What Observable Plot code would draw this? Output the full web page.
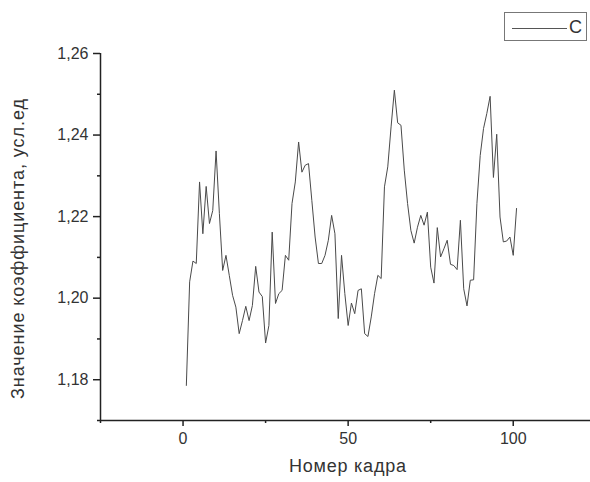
<!DOCTYPE html>
<html>
<head>
<meta charset="utf-8">
<script src="https://cdn.jsdelivr.net/npm/d3@7"></script>
<script src="https://cdn.jsdelivr.net/npm/@observablehq/plot@0.6"></script>
<style>
  html, body { margin: 0; padding: 0; background: #fff; }
  #wrap { position: relative; width: 590px; height: 482px; font-family: "Liberation Sans", Arial, sans-serif; }
  #legend { position: absolute; left: 504px; top: 12px; width: 83px; height: 29px; border: 1px solid #777; box-sizing: border-box; background: #fff; }
  #legend .ln { position: absolute; left: 7px; top: 15px; width: 55px; height: 0; border-top: 1px solid #555; }
  #legend .lb { position: absolute; left: 64px; top: 5px; font-size: 18px; color: #333; line-height: 18px; }
</style>
</head>
<body>
<div id="wrap">
  <div id="chart"></div>
  <div id="legend"><div class="ln"></div><div class="lb" id="legendLabel"></div></div>
</div>
<script>
// ---- data ----
const seriesName = "C";
const xTitle = "Номер кадра";
const yTitle = "Значение коэффициента, усл.ед";
const values = [
  1.1786, 1.2040, 1.2091, 1.2085, 1.2285, 1.2158, 1.2274, 1.2183, 1.2215, 1.2361,
  1.2208, 1.2068, 1.2105, 1.2056, 1.2007, 1.1978, 1.1913, 1.1945, 1.1980, 1.1945,
  1.1982, 1.2078, 1.2015, 1.2004, 1.1890, 1.1933, 1.2162, 1.1987, 1.2011, 1.2019,
  1.2105, 1.2093, 1.2232, 1.2285, 1.2383, 1.2309, 1.2326, 1.2330, 1.2240, 1.2150,
  1.2085, 1.2085, 1.2105, 1.2142, 1.2203, 1.2158, 1.1950, 1.2105, 1.2011, 1.1933,
  1.1988, 1.1962, 1.2019, 1.2023, 1.1913, 1.1906, 1.1954, 1.2011, 1.2056, 1.2048,
  1.2273, 1.2322, 1.2420, 1.2510, 1.2430, 1.2424, 1.2314, 1.2232, 1.2166, 1.2135,
  1.2174, 1.2203, 1.2179, 1.2211, 1.2076, 1.2037, 1.2173, 1.2101, 1.2121, 1.2142,
  1.2083, 1.2080, 1.2070, 1.2191, 1.2023, 1.1981, 1.2044, 1.2045, 1.2232, 1.2350,
  1.2416, 1.2453, 1.2495, 1.2296, 1.2402, 1.2199, 1.2138, 1.2140, 1.2150, 1.2105,
  1.2220
];
const xMajorTicks = [0, 50, 100];
const xMinorTicks = [-25, 25, 75];
const yMajorTicks = [1.18, 1.20, 1.22, 1.24, 1.26];
const yMajorLabels = ["1,18", "1,20", "1,22", "1,24", "1,26"];
const yMinorTicks = [1.17, 1.19, 1.21, 1.23, 1.25];
const xDomain = [-25, 123.4];
const yDomain = [1.17, 1.26];

const rows = values.map((v, i) => ({frame: i + 1, value: v}));
const yLabelOf = new Map(yMajorTicks.map((t, i) => [t, yMajorLabels[i]]));

const chart = Plot.plot({
  width: 590,
  height: 482,
  marginLeft: 100,
  marginRight: 0,
  marginTop: 53,
  marginBottom: 62,
  style: {fontFamily: "Liberation Sans, Arial, sans-serif", fontSize: "15px", color: "#333", background: "#fff"},
  x: {domain: xDomain},
  y: {domain: yDomain},
  marks: [
    Plot.axisX({ticks: xMajorTicks, tickSize: 6, tickPadding: 6, tickFormat: d => String(d), label: null, stroke: "#222", strokeWidth: 1.5, fontSize: 16}),
    Plot.axisX({ticks: xMinorTicks, tickSize: 3, tickFormat: () => "", label: null, stroke: "#222", strokeWidth: 1.5}),
    Plot.axisY({ticks: yMajorTicks, tickSize: 7, tickPadding: 5, tickFormat: d => yLabelOf.get(d), label: null, stroke: "#222", strokeWidth: 1.5, fontSize: 16}),
    Plot.axisY({ticks: yMinorTicks, tickSize: 3, tickFormat: () => "", label: null, stroke: "#222", strokeWidth: 1.5}),
    Plot.ruleX([xDomain[0]], {stroke: "#222", strokeWidth: 1.5}),
    Plot.ruleY([yDomain[0]], {stroke: "#222", strokeWidth: 1.5}),
    Plot.line(rows, {x: "frame", y: "value", stroke: "#4a4a4a", strokeWidth: 1}),
    Plot.text([xTitle], {text: d => d, frameAnchor: "bottom", textAnchor: "middle", dx: 2, dy: 51, fontSize: 18, fill: "#333", className: "xtitle"}),
    Plot.text([yTitle], {text: d => d, frameAnchor: "left", textAnchor: "middle", dx: -82, dy: 12, rotate: -90, fontSize: 18, fill: "#333", className: "ytitle"})
  ]
});
document.getElementById("chart").appendChild(chart);
document.getElementById("legendLabel").textContent = seriesName;
// stretch the titles to the reference's text lengths
d3.select(chart).selectAll(".xtitle text").attr("textLength", 117).attr("lengthAdjust", "spacing");
d3.select(chart).selectAll(".ytitle text").attr("textLength", 300).attr("lengthAdjust", "spacing");
</script>
</body>
</html>
